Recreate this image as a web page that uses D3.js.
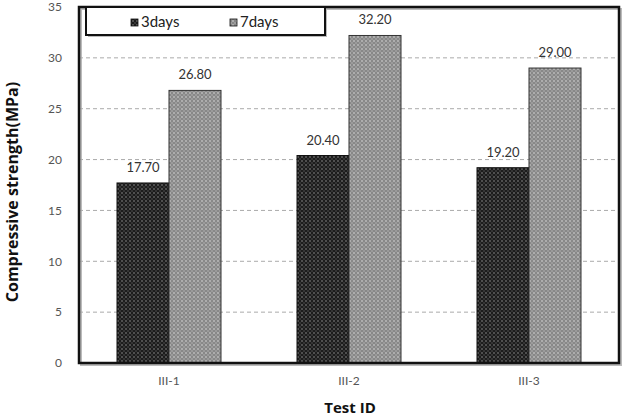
<!DOCTYPE html>
<html>
<head>
<meta charset="utf-8">
<script src="https://cdn.jsdelivr.net/npm/d3@7"></script>
<style>
  body { margin: 0; background: #fff; }
  svg { display: block; }
  text { font-family: Lato, "Open Sans", sans-serif; }
</style>
</head>
<body>
<svg id="chart" width="627" height="419"></svg>
<script>
// data
const categories = ["III-1", "III-2", "III-3"];
const seriesNames = ["3days", "7days"];
const days3 = [17.70, 20.40, 19.20];
const days7 = [26.80, 32.20, 29.00];
const yTicks = [0, 5, 10, 15, 20, 25, 30, 35];

const series = [days3, days7];

const svg = d3.select("#chart");
const plot = {left: 79, right: 619, top: 7, bottom: 363};

// patterns for the bars
const defs = svg.append("defs");
function dotPattern(id, bg, dot) {
    const p = defs.append("pattern")
        .attr("id", id)
        .attr("patternUnits", "userSpaceOnUse")
        .attr("width", 4)
        .attr("height", 4);
    p.append("rect").attr("width", 4).attr("height", 4).attr("fill", bg);
    p.append("circle").attr("cx", 1).attr("cy", 1).attr("r", 0.8).attr("fill", dot);
    p.append("circle").attr("cx", 3).attr("cy", 3).attr("r", 0.7).attr("fill", dot).attr("opacity", 0.6);
}
dotPattern("pat3", "#1c1c1c", "#909090");
dotPattern("pat7", "#888", "#dcdcdc");
const fills = ["url(#pat3)", "url(#pat7)"];
const strokes = ["#111", "#333"];

const x0 = d3.scaleBand()
    .domain(categories)
    .range([plot.left, plot.right])
    .paddingInner(76 / 180)
    .paddingOuter(38 / 180);
const x1 = d3.scaleBand()
    .domain(seriesNames)
    .range([0, x0.bandwidth()]);
const y = d3.scaleLinear()
    .domain([0, 35])
    .range([plot.bottom, plot.top]);

// shadow of the frame
svg.append("rect")
    .attr("x", plot.left + 2)
    .attr("y", plot.top + 2)
    .attr("width", plot.right - plot.left)
    .attr("height", plot.bottom - plot.top)
    .attr("fill", "none")
    .attr("stroke", "#bbb")
    .attr("stroke-width", 2);

// grid lines
svg.append("g")
    .selectAll("line")
    .data(yTicks.filter(d => d > 0 && d < 35))
    .enter()
    .append("line")
    .attr("x1", plot.left)
    .attr("x2", plot.right)
    .attr("y1", d => y(d))
    .attr("y2", d => y(d))
    .attr("stroke", "#aaa")
    .attr("stroke-dasharray", "4,3");

// y axis labels
const yAxis = d3.axisLeft(y)
    .tickValues(yTicks)
    .tickSize(0)
    .tickPadding(17);
const yg = svg.append("g")
    .attr("transform", "translate(" + plot.left + ",0)")
    .call(yAxis);
yg.select(".domain").remove();
yg.selectAll("text")
    .style("font-size", "12px")
    .attr("fill", "#555");

// x axis labels
const xAxis = d3.axisBottom(x0)
    .tickSize(0)
    .tickPadding(13);
const xg = svg.append("g")
    .attr("transform", "translate(0," + plot.bottom + ")")
    .call(xAxis);
xg.select(".domain").remove();
xg.selectAll("text")
    .style("font-size", "12px")
    .attr("fill", "#555");

// bars
const groups = svg.append("g")
    .selectAll("g")
    .data(categories)
    .enter()
    .append("g")
    .attr("transform", d => "translate(" + x0(d) + ",0)");

groups.selectAll("rect")
    .data((d, i) => series.map((s, j) => ({name: seriesNames[j], value: s[i], j: j})))
    .enter()
    .append("rect")
    .attr("x", d => x1(d.name))
    .attr("y", d => y(d.value))
    .attr("width", x1.bandwidth())
    .attr("height", d => y(0) - y(d.value))
    .attr("fill", d => fills[d.j])
    .attr("stroke", d => strokes[d.j])
    .attr("stroke-width", 1);

groups.selectAll("text.val")
    .data((d, i) => series.map((s, j) => ({name: seriesNames[j], value: s[i]})))
    .enter()
    .append("text")
    .attr("class", "val")
    .attr("x", d => x1(d.name) + x1.bandwidth() / 2)
    .attr("y", d => y(d.value) - 11)
    .attr("text-anchor", "middle")
    .style("font-size", "13px")
    .attr("fill", "#333")
    .text(d => d.value.toFixed(2));

// frame
svg.append("rect")
    .attr("x", plot.left)
    .attr("y", plot.top)
    .attr("width", plot.right - plot.left)
    .attr("height", plot.bottom - plot.top)
    .attr("fill", "none")
    .attr("stroke", "#111")
    .attr("stroke-width", 2.5);

// legend
const lg = svg.append("g");
lg.append("rect")
    .attr("x", 88).attr("y", 9)
    .attr("width", 239).attr("height", 28)
    .attr("fill", "#bbb");
lg.append("rect")
    .attr("x", 86).attr("y", 7)
    .attr("width", 239).attr("height", 28)
    .attr("fill", "#fff")
    .attr("stroke", "#111")
    .attr("stroke-width", 2);
const legX = [131, 230];
seriesNames.forEach((name, i) => {
    lg.append("rect")
        .attr("x", legX[i]).attr("y", 19)
        .attr("width", 7).attr("height", 7)
        .attr("fill", fills[i])
        .attr("stroke", "#111")
        .attr("stroke-width", 0.8);
    lg.append("text")
        .attr("x", legX[i] + 10)
        .attr("y", 27)
        .style("font-size", "15px")
        .attr("fill", "#222")
        .text(name);
});

// axis titles
svg.append("text")
    .attr("transform", "translate(18,192) rotate(-90)")
    .attr("text-anchor", "middle")
    .style("font-size", "16px")
    .style("font-weight", "bold")
    .style("font-family", "'Open Sans', sans-serif")
    .attr("fill", "#111")
    .text("Compressive strength(MPa)");

svg.append("text")
    .attr("x", 350)
    .attr("y", 413)
    .attr("text-anchor", "middle")
    .style("font-size", "15px")
    .style("font-weight", "bold")
    .style("font-family", "'Open Sans', sans-serif")
    .attr("fill", "#111")
    .text("Test ID");
</script>
</body>
</html>
